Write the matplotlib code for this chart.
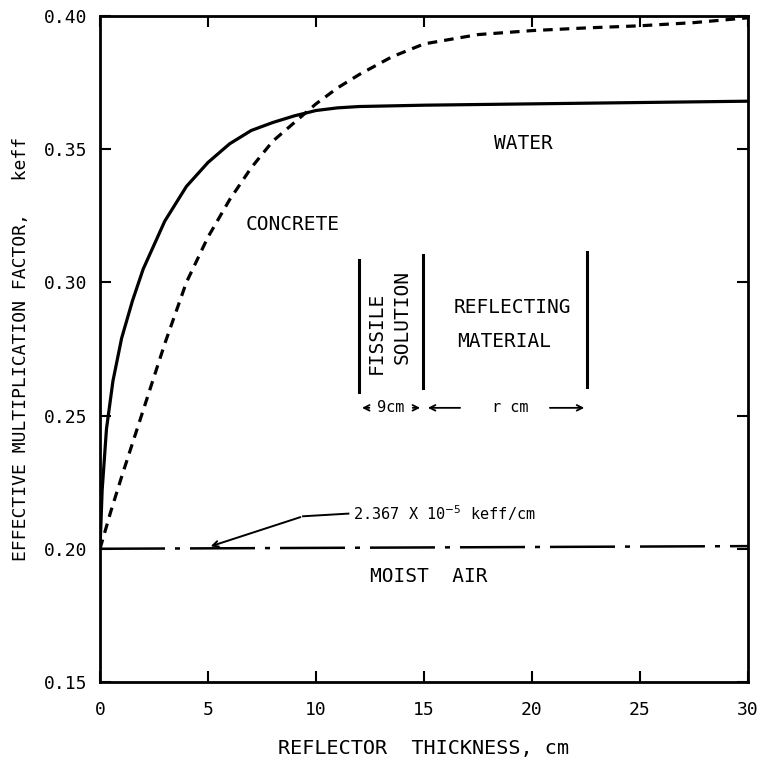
import matplotlib
matplotlib.use("Agg")
import matplotlib.pyplot as plt

# ---- data ----
water_x = [0, 0.1, 0.3, 0.6, 1.0, 1.5, 2.0, 3.0, 4.0, 5.0, 6.0, 7.0, 8.0, 9.0, 10.0, 11.0, 12.0, 15.0, 20.0, 25.0, 30.0]
water_y = [0.200, 0.222, 0.245, 0.263, 0.279, 0.293, 0.305, 0.323, 0.336, 0.345, 0.352, 0.357, 0.360, 0.3625, 0.3645, 0.3655, 0.366, 0.3665, 0.367, 0.3675, 0.368]

concrete_x = [0, 0.5, 1.0, 2.0, 3.0, 4.0, 5.0, 6.0, 7.0, 8.0, 9.0, 10.0, 11.0, 12.0, 13.5, 15.0, 17.5, 20.0, 22.5, 25.0, 27.5, 30.0]
concrete_y = [0.200, 0.214, 0.227, 0.252, 0.277, 0.300, 0.317, 0.331, 0.343, 0.353, 0.360, 0.367, 0.373, 0.378, 0.3846, 0.3895, 0.393, 0.3945, 0.3955, 0.3963, 0.3975, 0.3993]

air_x = [0, 30]
air_y = [0.2000, 0.2010]

xticks = [0, 5, 10, 15, 20, 25, 30]
yticks = [0.15, 0.20, 0.25, 0.30, 0.35, 0.40]
ytick_labels = ["0.15", "0.20", "0.25", "0.30", "0.35", "0.40"]

FONT = "DejaVu Sans Mono"
plt.rcParams["font.family"] = [FONT, "DejaVu Sans"]

fig = plt.figure(figsize=(7.61, 7.70), dpi=100)
ax = fig.add_axes([0.1314, 0.1143, 0.8515, 0.865])

ax.plot(water_x, water_y, color="black", lw=2.3, solid_capstyle="butt")
ax.plot(concrete_x, concrete_y, color="black", lw=2.3, dashes=(3.0, 2.2))
ax.plot(air_x, air_y, color="black", lw=1.8, dashes=(26, 4, 2, 4))

ax.set_xlim(0, 30)
ax.set_ylim(0.15, 0.40)
ax.set_xticks(xticks)
ax.set_yticks(yticks)
ax.set_yticklabels(ytick_labels)
ax.tick_params(direction="in", length=8, width=1.5, top=True, right=True,
               labelsize=13)
ax.tick_params(axis="x", pad=14)
ax.tick_params(axis="y", pad=9)
for s in ax.spines.values():
    s.set_linewidth(2.0)

ax.set_xlabel("REFLECTOR  THICKNESS, cm", fontsize=14.5, labelpad=14)
ax.set_ylabel("EFFECTIVE MULTIPLICATION FACTOR,   keff", fontsize=13, labelpad=10)

# curve labels
ax.text(19.6, 0.352, "WATER", fontsize=14, ha="center", va="center")
ax.text(8.9, 0.3216, "CONCRETE", fontsize=14, ha="center", va="center")
ax.text(15.2, 0.1895, "MOIST  AIR", fontsize=14, ha="center", va="center")

# slope annotation
ax.text(11.7, 0.2135, "2.367 X 10$^{-5}$ keff/cm", fontsize=11, ha="left", va="center")
ax.plot([9.4, 11.5], [0.2122, 0.2132], color="black", lw=1.4)
ax.annotate("", xy=(5.0, 0.2006), xytext=(9.4, 0.2122),
            arrowprops=dict(arrowstyle="->", color="black", lw=1.4))

# geometry sketch
ax.plot([12.0, 12.0], [0.2589, 0.3084], color="black", lw=2.2)
ax.plot([14.95, 14.95], [0.2604, 0.3103], color="black", lw=2.2)
ax.plot([22.55, 22.55], [0.2608, 0.3114], color="black", lw=2.2)
ax.text(12.8, 0.2811, "FISSILE", rotation=90, fontsize=14, ha="center", va="center")
ax.text(14.0, 0.2871, "SOLUTION", rotation=90, fontsize=14, ha="center", va="center")
ax.text(19.1, 0.2904, "REFLECTING", fontsize=14, ha="center", va="center")
ax.text(18.7, 0.2777, "MATERIAL", fontsize=14, ha="center", va="center")

ay = 0.2529
ax.text(13.45, ay, "9cm", fontsize=11, ha="center", va="center")
ax.annotate("", xy=(12.0, ay), xytext=(12.6, ay),
            arrowprops=dict(arrowstyle="->", color="black", lw=1.3))
ax.annotate("", xy=(14.95, ay), xytext=(14.35, ay),
            arrowprops=dict(arrowstyle="->", color="black", lw=1.3))
ax.annotate("", xy=(15.05, ay), xytext=(16.8, ay),
            arrowprops=dict(arrowstyle="->", color="black", lw=1.3))
ax.text(19.0, ay, "r cm", fontsize=11, ha="center", va="center")
ax.annotate("", xy=(22.55, ay), xytext=(20.7, ay),
            arrowprops=dict(arrowstyle="->", color="black", lw=1.3))

fig.savefig("out.png", dpi=100)
